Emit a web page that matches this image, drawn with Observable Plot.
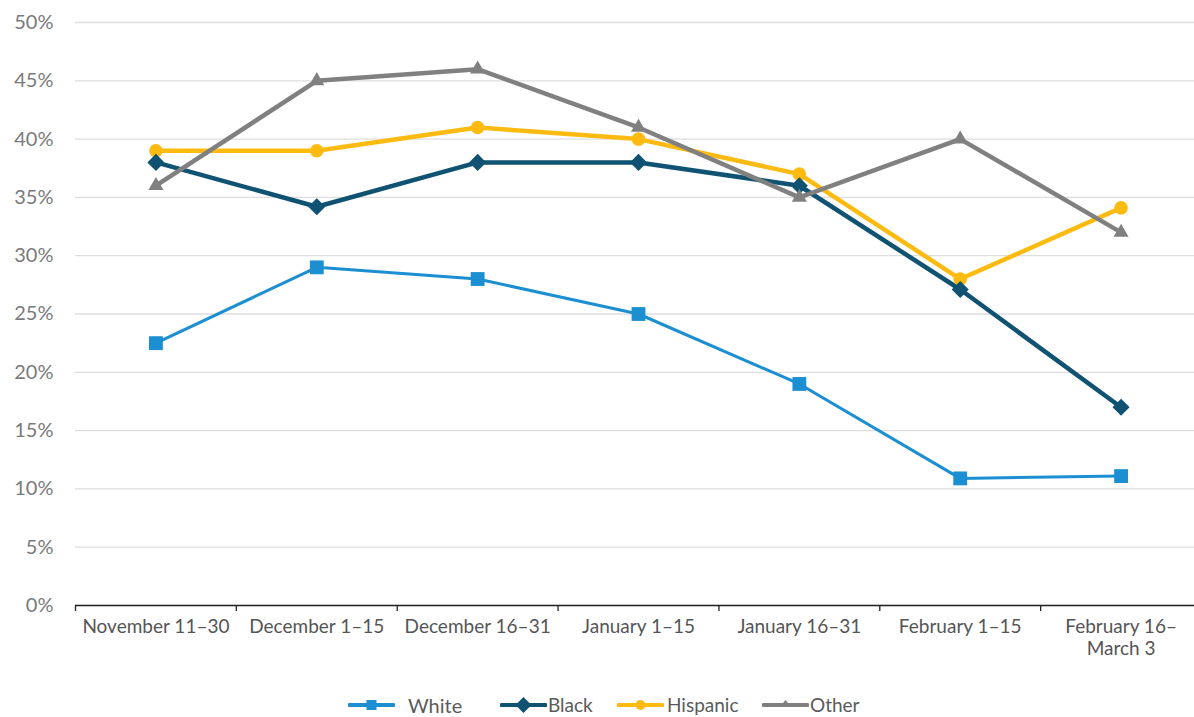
<!DOCTYPE html>
<html>
<head>
<meta charset="utf-8">
<script src="https://cdn.jsdelivr.net/npm/d3@7"></script>
<script src="https://cdn.jsdelivr.net/npm/@observablehq/plot@0.6"></script>
<style>
  html, body { margin: 0; padding: 0; background: #fff; }
  #wrap { position: relative; width: 1194px; height: 717px; overflow: hidden; font-family: Lato, "Open Sans", sans-serif; }
  #legend { position: absolute; left: 0; top: 692px; width: 1194px; height: 26px; color: #5a5a5a; }
  #legend svg, #legend span { position: absolute; top: 0; }
  #legend span { line-height: 26px; white-space: nowrap; }
</style>
</head>
<body>
<div id="wrap">
  <div id="chart"></div>
  <div id="legend"></div>
</div>
<script>
// Periods on the x axis
const categories = [
  "November 11–30",
  "December 1–15",
  "December 16–31",
  "January 1–15",
  "January 16–31",
  "February 1–15",
  "February 16–\nMarch 3"
];

// Share (%) per group and period
const white    = [22.5, 29, 28, 25, 19, 10.9, 11.1];
const black    = [38, 34.2, 38, 38, 36, 27.1, 17];
const hispanic = [39, 39, 41, 40, 37, 28, 34.1];
const other    = [36, 45, 46, 41, 35, 40, 32];

const seriesNames = ["White", "Black", "Hispanic", "Other"];
const yTicks = [0, 5, 10, 15, 20, 25, 30, 35, 40, 45, 50];

// Styling per series
const seriesStyle = {
  White:    {values: white,    color: "#1b8fd1", symbol: "square",   r: 7.8, width: 3},
  Black:    {values: black,    color: "#0f5272", symbol: "diamond2", r: 7.7, width: 4.5},
  Hispanic: {values: hispanic, color: "#fdbb12", symbol: "circle",   r: 6.8, width: 4.5},
  Other:    {values: other,    color: "#808080", symbol: "triangle", r: 5.6, width: 4.5}
};

const rows = seriesNames.flatMap(name =>
  seriesStyle[name].values.map((value, i) => ({group: name, i, value}))
);

const bounds = categories.map((_, i) => i - 0.5).concat([categories.length - 0.5]);

const lines = seriesNames.map(name =>
  Plot.line(rows.filter(d => d.group === name), {
    x: "i", y: "value",
    stroke: seriesStyle[name].color,
    strokeWidth: seriesStyle[name].width,
    strokeLinejoin: "round"
  })
);

const dotOrder = ["White", "Hispanic", "Black", "Other"];
const dots = dotOrder.map(name =>
  Plot.dot(rows.filter(d => d.group === name), {
    x: "i", y: "value",
    symbol: () => seriesStyle[name].symbol,
    r: seriesStyle[name].r,
    fill: seriesStyle[name].color,
    stroke: "none"
  })
);

const chart = Plot.plot({
  width: 1194,
  height: 675,
  marginTop: 22,
  marginBottom: 70,
  marginLeft: 75,
  marginRight: 0,
  style: {fontFamily: "Lato, 'Open Sans', sans-serif", background: "#fff"},
  x: {type: "linear", domain: [-0.5, categories.length - 0.5], range: [75, 1201], label: null},
  y: {domain: [0, 50], label: null},
  symbol: {type: "identity"},
  marks: [
    Plot.gridY(yTicks, {stroke: "#dedede", strokeOpacity: 1, strokeWidth: 1.3}),
    Plot.axisY(yTicks, {
      tickSize: 0, tickPadding: 22,
      tickFormat: d => d + "%",
      fontSize: 20, fill: "#7a7a7a"
    }),
    Plot.ruleY([0], {stroke: "#222", strokeWidth: 1.3}),
    Plot.axisX(bounds, {tickSize: 6, tickFormat: () => "", stroke: "#222", strokeWidth: 1.3}),
    Plot.axisX(d3.range(categories.length), {
      tickSize: 0, tickPadding: 11,
      tickFormat: i => categories[i],
      fontSize: 19, fill: "#555", lineHeight: 1.2
    }),
    ...lines,
    ...dots
  ]
});
document.getElementById("chart").appendChild(chart);

// Legend: line swatch with marker, then label
const legend = d3.select("#legend");
const legendLayout = {
  White:    {swatch: 348, text: 408, size: 20, marker: "square",   ms: 10},
  Black:    {swatch: 500, text: 548, size: 19, marker: "diamond",  ms: 8},
  Hispanic: {swatch: 617, text: 667, size: 19, marker: "circle",   ms: 5},
  Other:    {swatch: 762, text: 810, size: 19, marker: "triangle", ms: 5}
};
seriesNames.forEach(name => {
  const st = seriesStyle[name], lg = legendLayout[name];
  const sw = legend.append("svg").attr("width", 47).attr("height", 26).style("left", lg.swatch + "px");
  const cy = 13, cx = 23.5;
  sw.append("line").attr("x1", 1.5).attr("x2", 45.5).attr("y1", cy).attr("y2", cy)
    .attr("stroke", st.color).attr("stroke-width", 4).attr("stroke-linecap", "round");
  if (lg.marker === "square") {
    sw.append("rect").attr("x", cx - lg.ms / 2).attr("y", cy - lg.ms / 2)
      .attr("width", lg.ms).attr("height", lg.ms).attr("fill", st.color);
  } else if (lg.marker === "diamond") {
    sw.append("path").attr("d", `M${cx},${cy - lg.ms}L${cx + lg.ms},${cy}L${cx},${cy + lg.ms}L${cx - lg.ms},${cy}Z`).attr("fill", st.color);
  } else if (lg.marker === "circle") {
    sw.append("circle").attr("cx", cx).attr("cy", cy).attr("r", lg.ms).attr("fill", st.color);
  } else {
    sw.append("path").attr("d", `M${cx},${cy - lg.ms}L${cx + lg.ms},${cy + 1}L${cx - lg.ms},${cy + 1}Z`).attr("fill", st.color);
  }
  legend.append("span").text(name)
    .style("left", lg.text + "px")
    .style("font-size", lg.size + "px");
});
</script>
</body>
</html>
